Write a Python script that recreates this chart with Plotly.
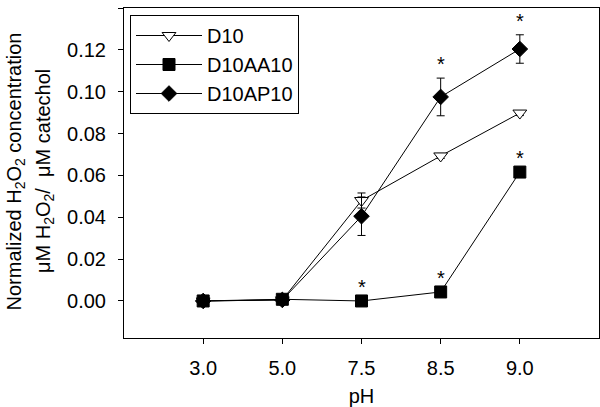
import plotly.graph_objects as go

ph_labels = ["3.0", "5.0", "7.5", "8.5", "9.0"]
x_idx = [0, 1, 2, 3, 4]

d10 = [0.0, 0.0005, 0.048, 0.0693, 0.0898]
d10_err = [0.0005, 0.0005, 0.0036, 0.0012, 0.0012]
d10aa10 = [0.0, 0.0008, 0.0, 0.0043, 0.0616]
d10aa10_err = [0.0, 0.0, 0.0, 0.0, 0.0]
d10ap10 = [0.0, 0.0005, 0.0405, 0.0975, 0.1204]
d10ap10_err = [0.0005, 0.0005, 0.0092, 0.0090, 0.0068]

# significance marks: (series values, errors, index)
stars = [(d10aa10, d10aa10_err, 2), (d10aa10, d10aa10_err, 3), (d10aa10, d10aa10_err, 4),
         (d10ap10, d10ap10_err, 3), (d10ap10, d10ap10_err, 4)]

FONT = "Liberation Sans, Arial, sans-serif"
FS = 20

W, H = 600, 407
PLOT_L, PLOT_R, PLOT_T, PLOT_B = 124, 599, 8, 338  # pixels
PW = PLOT_R - PLOT_L
PH = PLOT_B - PLOT_T

fig = go.Figure()

def add(name, y, err, symbol, size, fill):
    fig.add_trace(go.Scatter(
        x=x_idx, y=y, name=name, mode="lines+markers",
        line=dict(color="black", width=1),
        marker=dict(symbol=symbol, size=size, color=fill, line=dict(color="black", width=1)),
        error_y=dict(type="data", array=err, visible=True, color="black", thickness=1, width=4),
    ))

add("D10", d10, d10_err, "triangle-down", 12, "white")
add("D10AA10", d10aa10, d10aa10_err, "square", 12, "black")
add("D10AP10", d10ap10, d10ap10_err, "diamond", 12, "black")

annotations = []
for vals, errs, i in stars:
    annotations.append(dict(x=x_idx[i], y=vals[i] + errs[i], xref="x", yref="y",
                            text="*", showarrow=False, yanchor="bottom", yshift=1,
                            font=dict(size=20, family=FONT, color="black")))

annotations.append(dict(xref="paper", yref="paper", x=(0 - PLOT_L) / PW, y=(PLOT_B - 172) / PH,
                        text="Normalized H<sub>2</sub>O<sub>2</sub> concentration",
                        textangle=-90, showarrow=False, xanchor="left", yanchor="middle",
                        font=dict(size=FS, family=FONT, color="black")))
annotations.append(dict(xref="paper", yref="paper", x=(44 - PLOT_L) / PW, y=(PLOT_B - 171) / PH,
                        text="\u03bcM H<sub>2</sub>O<sub>2</sub>/  \u03bcM catechol",
                        textangle=-90, showarrow=False, xanchor="center", yanchor="middle",
                        font=dict(size=FS, family=FONT, color="black")))

fig.update_layout(
    width=W, height=H,
    margin=dict(l=PLOT_L, r=W - PLOT_R, t=PLOT_T, b=H - PLOT_B, autoexpand=False),
    paper_bgcolor="white", plot_bgcolor="white",
    font=dict(family=FONT, size=FS, color="black"),
    showlegend=True,
    legend=dict(x=(130 - PLOT_L) / PW, y=(PLOT_B - 15) / PH, xanchor="left", yanchor="top",
                bordercolor="black", borderwidth=1, bgcolor="white", itemwidth=66,
                font=dict(size=FS, family=FONT), tracegroupgap=0),
    annotations=annotations,
    xaxis=dict(range=[-1, 5], tickmode="array", tickvals=x_idx, ticktext=ph_labels,
               showline=True, linecolor="black", linewidth=1, mirror=True,
               ticks="outside", ticklen=5, tickcolor="black", showgrid=False, zeroline=False,
               ticklabelstandoff=7,
               title=dict(text="pH", font=dict(size=FS, family=FONT), standoff=22)),
    yaxis=dict(range=[-0.0177, 0.14], tick0=0, dtick=0.02, tickformat=".2f",
               showline=True, linecolor="black", linewidth=1, mirror=True,
               ticks="outside", ticklen=5, tickcolor="black", showgrid=False, zeroline=False,
               ticklabelstandoff=8),
)

# remove the browser's default 8px page margin so the 600x407 figure fills the window
fig.write_html("out.html", config={"displayModeBar": False},
               post_script="document.body.style.margin='0';")
